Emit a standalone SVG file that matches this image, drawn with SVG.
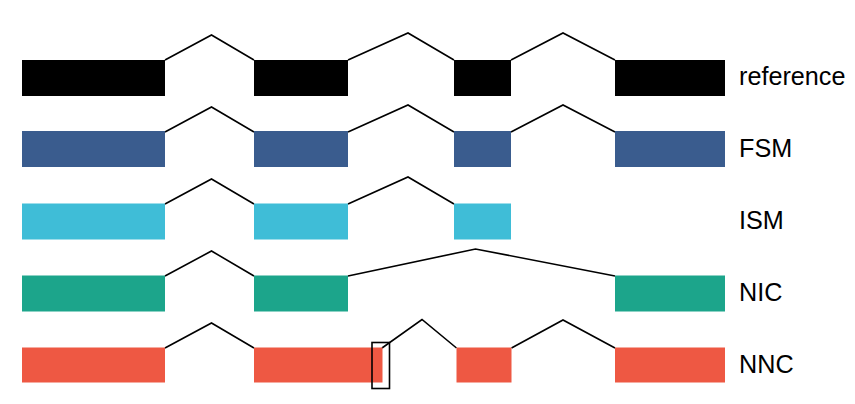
<svg xmlns="http://www.w3.org/2000/svg" width="855" height="404" viewBox="0 0 855 404">
<style>
.ex{stroke:none}
.in{fill:none;stroke:#000;stroke-width:1.6;stroke-linejoin:miter}
.lb{font-family:"Liberation Sans",Arial,sans-serif;font-size:25.2px;fill:#000}
.ref{fill:#000}.fsm{fill:#3A5C8E}.ism{fill:#3FBDD7}.nic{fill:#1CA58B}.nnc{fill:#EE5843}
</style>
<rect width="855" height="404" fill="#fff"/>
<g id="connectors">
<polyline class="in" points="165,60 211.5,35 254,60"/>
<polyline class="in" points="348,60 408,33 454,60"/>
<polyline class="in" points="511,60 563,33 615,60"/>
<polyline class="in" points="165,132 211.5,107 254,132"/>
<polyline class="in" points="348,132 408,105 454,132"/>
<polyline class="in" points="511,132 563,105 615,132"/>
<polyline class="in" points="165,204 211.5,179 254,204"/>
<polyline class="in" points="348,204 408,177 454,204"/>
<polyline class="in" points="165,276 211.5,251 254,276"/>
<polyline class="in" points="348,276 475.5,249 615,276"/>
<polyline class="in" points="165,348 211.5,323 254,348"/>
<polyline class="in" points="382,348 422,319.5 456.5,348"/>
<polyline class="in" points="511.5,348 563,320 615,348"/>
</g>
<g id="reference">
<rect class="ex ref" x="22" y="60" width="143" height="36"/>
<rect class="ex ref" x="254" y="60" width="94" height="36"/>
<rect class="ex ref" x="454" y="60" width="57" height="36"/>
<rect class="ex ref" x="615" y="60" width="110" height="36"/>
<text class="lb" x="739" y="85">reference</text>
</g>
<g id="FSM">
<rect class="ex fsm" x="22" y="131" width="143" height="36"/>
<rect class="ex fsm" x="254" y="131" width="94" height="36"/>
<rect class="ex fsm" x="454" y="131" width="57" height="36"/>
<rect class="ex fsm" x="615" y="131" width="110" height="36"/>
<text class="lb" x="739" y="157">FSM</text>
</g>
<g id="ISM">
<rect class="ex ism" x="22" y="203.5" width="143" height="36"/>
<rect class="ex ism" x="254" y="203.5" width="94" height="36"/>
<rect class="ex ism" x="454" y="203.5" width="57" height="36"/>
<text class="lb" x="739" y="229">ISM</text>
</g>
<g id="NIC">
<rect class="ex nic" x="22" y="275.5" width="143" height="36"/>
<rect class="ex nic" x="254" y="275.5" width="94" height="36"/>
<rect class="ex nic" x="615" y="275.5" width="110" height="36"/>
<text class="lb" x="739" y="301">NIC</text>
</g>
<g id="NNC">
<rect class="ex nnc" x="22" y="347.5" width="143" height="35"/>
<rect class="ex nnc" x="254" y="347.5" width="128.5" height="35"/>
<rect class="ex nnc" x="456.5" y="347.5" width="55" height="35"/>
<rect class="ex nnc" x="615" y="347.5" width="110" height="35"/>
<rect x="372" y="342.5" width="17.5" height="46" fill="none" stroke="#000" stroke-width="1.6"/>
<text class="lb" x="739" y="373">NNC</text>
</g>
</svg>
